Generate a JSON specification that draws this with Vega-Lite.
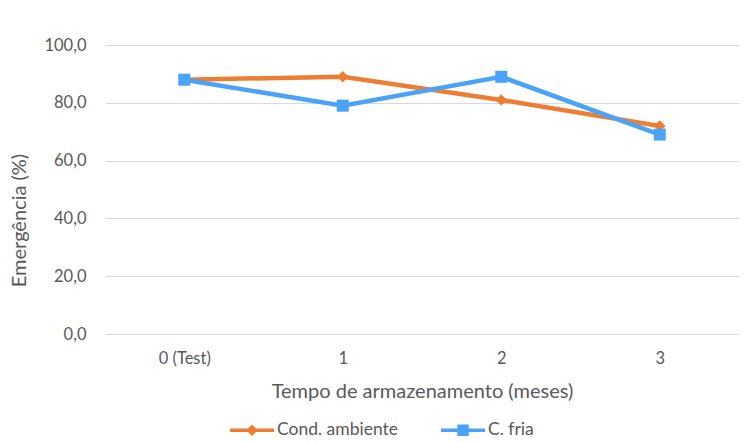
{
  "$schema": "https://vega.github.io/schema/vega-lite/v6.json",
  "width": 634,
  "height": 289,
  "autosize": {"type": "none"},
  "padding": {"left": 105, "top": 45, "right": 12, "bottom": 108},
  "background": "white",
  "config": {
    "locale": {"number": {"decimal": ",", "thousands": ".", "grouping": [3], "currency": ["", " €"]}},
    "view": {"stroke": null},
    "font": "Lato",
    "axis": {
      "labelColor": "#595959",
      "titleColor": "#595959",
      "labelFont": "Lato",
      "titleFont": "Lato",
      "labelFontSize": 16.5,
      "titleFontSize": 20,
      "titleFontWeight": "normal",
      "gridColor": "#d9d9d9",
      "gridWidth": 1,
      "ticks": false,
      "domain": false
    }
  },
  "data": {
    "values": [
      {"tempo": "0 (Test)", "serie": "Cond. ambiente", "emergencia": 88},
      {"tempo": "1", "serie": "Cond. ambiente", "emergencia": 89},
      {"tempo": "2", "serie": "Cond. ambiente", "emergencia": 81},
      {"tempo": "3", "serie": "Cond. ambiente", "emergencia": 72},
      {"tempo": "0 (Test)", "serie": "C. fria", "emergencia": 88},
      {"tempo": "1", "serie": "C. fria", "emergencia": 79},
      {"tempo": "2", "serie": "C. fria", "emergencia": 89},
      {"tempo": "3", "serie": "C. fria", "emergencia": 69}
    ]
  },
  "encoding": {
    "x": {
      "field": "tempo",
      "type": "ordinal",
      "sort": ["0 (Test)", "1", "2", "3"],
      "scale": {"type": "point", "padding": 0.5},
      "axis": {
        "title": "Tempo de armazenamento (meses)",
        "labelAngle": 0,
        "labelPadding": 16,
        "grid": false,
        "titlePadding": 15
      }
    },
    "y": {
      "field": "emergencia",
      "type": "quantitative",
      "scale": {"domain": [0, 100], "nice": false},
      "axis": {
        "title": "Emergência (%)",
        "values": [0, 20, 40, 60, 80, 100],
        "format": ".1f",
        "grid": true,
        "labelPadding": 19,
        "titleX": -86,
        "titleY": 175,
        "titleBaseline": "middle"
      }
    }
  },
  "layer": [
    {
      "mark": {"type": "line", "strokeWidth": 4.5},
      "encoding": {
        "color": {
          "field": "serie",
          "type": "nominal",
          "scale": {"domain": ["Cond. ambiente", "C. fria"], "range": ["#ED7D31", "#4BA3F7"]},
          "legend": {
            "title": null,
            "orient": "none",
            "direction": "horizontal",
            "legendX": 125,
            "legendY": 363,
            "padding": 0,
            "symbolSize": 1936,
            "symbolStrokeWidth": 0,
            "labelOffset": 3,
            "columnPadding": 42,
            "labelFont": "Lato",
            "labelFontSize": 17.5,
            "labelColor": "#595959",
            "encode": {
              "symbols": {
                "update": {
                  "shape": {"signal": "datum.value === 'Cond. ambiente' ? 'M-1,-0.08H1V0.08H-1Z M0,-0.26L0.26,0L0,0.26L-0.26,0Z' : 'M-1,-0.08H1V0.08H-1Z M-0.26,-0.26H0.26V0.26H-0.26Z'"},
                  "fill": {"scale": "color", "field": "value"},
                  "fillOpacity": {"value": 1},
                  "strokeWidth": {"value": 0}
                }
              }
            }
          }
        }
      }
    },
    {
      "transform": [{"filter": "datum.serie === 'Cond. ambiente'"}],
      "mark": {"type": "point", "filled": true, "opacity": 1, "size": 130, "shape": "diamond"},
      "encoding": {
        "color": {"field": "serie", "type": "nominal", "legend": null}
      }
    },
    {
      "transform": [{"filter": "datum.serie === 'C. fria'"}],
      "mark": {"type": "point", "filled": true, "opacity": 1, "size": 144, "shape": "square"},
      "encoding": {
        "color": {"field": "serie", "type": "nominal", "legend": null}
      }
    }
  ]
}
